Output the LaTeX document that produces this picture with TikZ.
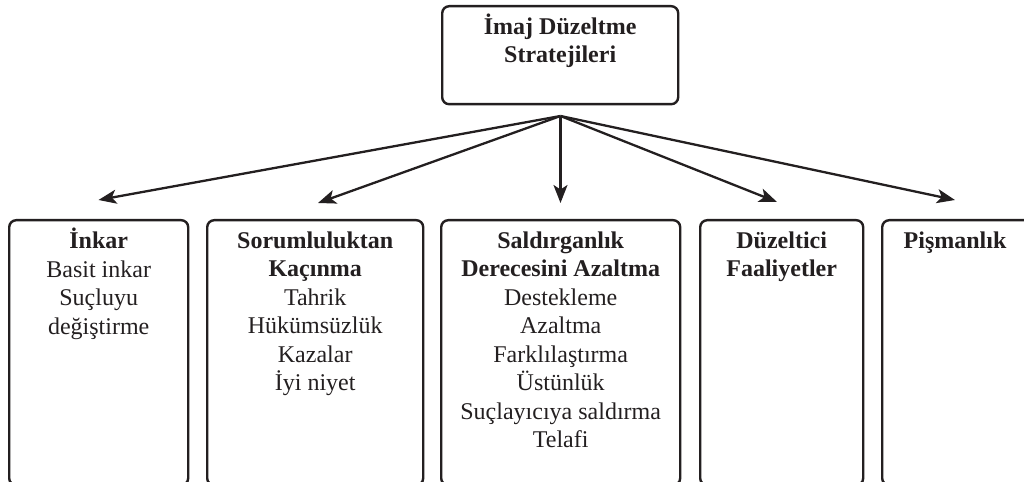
\documentclass[tikz,border=0pt]{standalone}
\usepackage{fontspec}
\setmainfont{Liberation Serif}
\usetikzlibrary{arrows.meta,calc}
\definecolor{ink}{RGB}{35,31,32}
\begin{document}
\begin{tikzpicture}[x=1bp,y=-1bp,
  box/.style={draw=ink, line width=2.4bp, rounded corners=7bp, inner sep=0, anchor=north west},
  txt/.style={text=ink, align=center, inner sep=0, anchor=north, font=\fontsize{24bp}{28.5bp}\selectfont},
  ttxt/.style={txt, font=\fontsize{24bp}{27.5bp}\selectfont\bfseries},
  arr/.style={draw=ink, line width=2.3bp, -{Stealth[length=18bp,width=14bp,inset=4.5bp]}}]
\clip (0,0) rectangle (1024,482);
% top box
\node[box, minimum width=236bp, minimum height=98bp] (top) at (441,5) {};
\node[ttxt] (ttop) at ([yshift=-9bp]top.north) {\strut İmaj Düzeltme\\Stratejileri};
% bottom boxes
\node[box, minimum width=179bp, minimum height=265bp] (b1) at (8,219) {};
\node[box, minimum width=216bp, minimum height=265bp] (b2) at (206,219) {};
\node[box, minimum width=239bp, minimum height=265bp] (b3) at (440,219) {};
\node[box, minimum width=163bp, minimum height=265bp] (b4) at (699,219) {};
\node[box, minimum width=150bp, minimum height=265bp] (b5) at (881,219) {};
% texts
\node[txt] (l1) at ([yshift=-9bp]b1.north) {\strut\textbf{İnkar}\\Basit inkar\\Suçluyu\\değiştirme};
\node[txt] (l2) at ([yshift=-9bp]b2.north) {\strut\textbf{Sorumluluktan}\\\textbf{Kaçınma}\\Tahrik\\Hükümsüzlük\\Kazalar\\İyi niyet};
\node[txt] (l3) at ([yshift=-9bp]b3.north) {\strut\textbf{Saldırganlık}\\\textbf{Derecesini Azaltma}\\Destekleme\\Azaltma\\Farklılaştırma\\Üstünlük\\Suçlayıcıya saldırma\\Telafi};
\node[txt] (l4) at ([yshift=-9bp]b4.north) {\strut\textbf{Düzeltici}\\\textbf{Faaliyetler}};
\node[txt] (l5) at (955,228) {\strut\textbf{Pişmanlık}};
% connectors
\coordinate (apex) at (560.5,116);
\coordinate (t1) at (98.5,200);
\coordinate (t2) at (318,203);
\coordinate (t3) at (560.5,203);
\coordinate (t4) at (777,202);
\coordinate (t5) at (955,200);
\foreach \t in {t1,t2,t3,t4,t5} \draw[arr] (apex) -- (\t);
\end{tikzpicture}
\end{document}
